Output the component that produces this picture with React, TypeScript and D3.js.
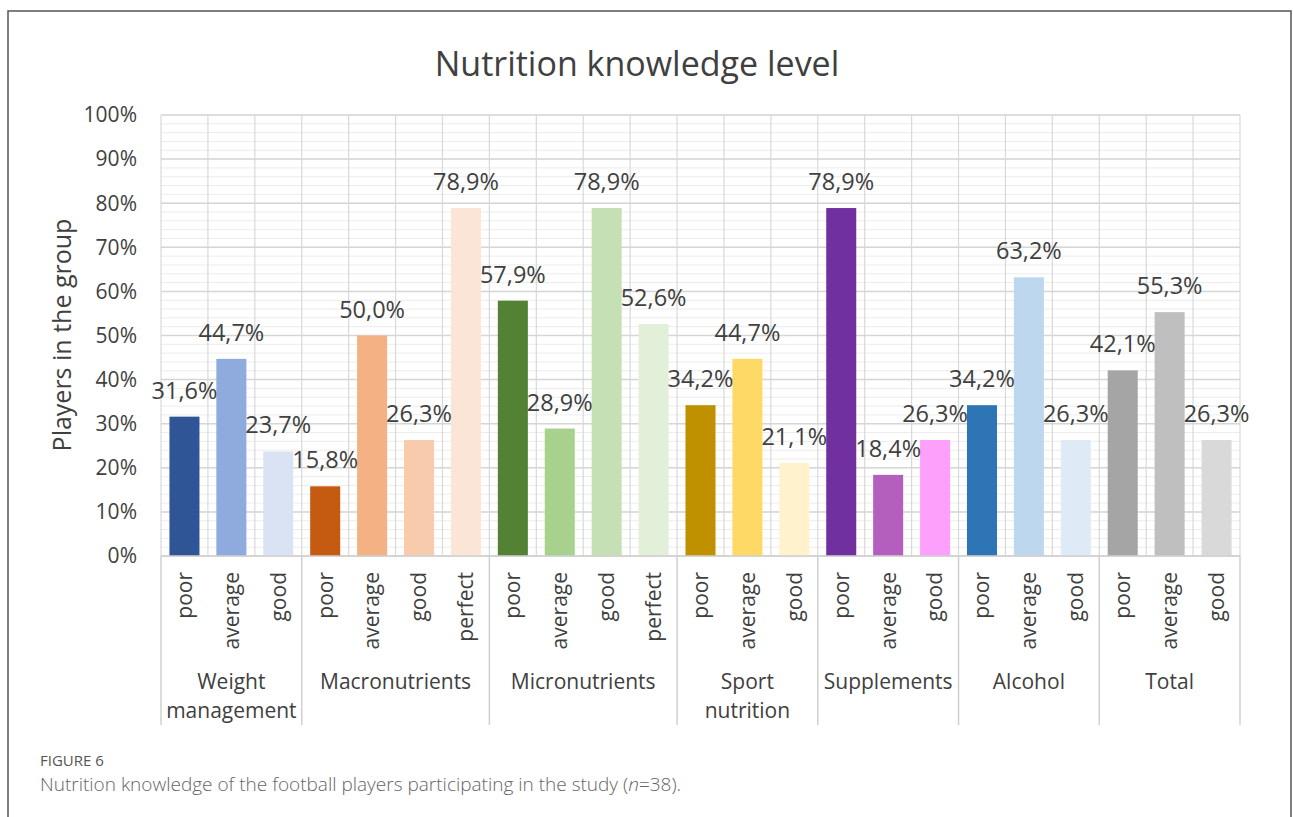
import React from "react";
import * as d3 from "d3";

const groups = ["Weight management", "Macronutrients", "Micronutrients", "Sport nutrition", "Supplements", "Alcohol", "Total"];
const groupLines = [["Weight", "management"], ["Macronutrients"], ["Micronutrients"], ["Sport", "nutrition"], ["Supplements"], ["Alcohol"], ["Total"]];
const levels = [
  ["poor", "average", "good"],
  ["poor", "average", "good", "perfect"],
  ["poor", "average", "good", "perfect"],
  ["poor", "average", "good"],
  ["poor", "average", "good"],
  ["poor", "average", "good"],
  ["poor", "average", "good"],
];
const values = [
  [31.6, 44.7, 23.7],
  [15.8, 50.0, 26.3, 78.9],
  [57.9, 28.9, 78.9, 52.6],
  [34.2, 44.7, 21.1],
  [78.9, 18.4, 26.3],
  [34.2, 63.2, 26.3],
  [42.1, 55.3, 26.3],
];
const colors = [
  ["#2F5597", "#8FAADC", "#DAE3F3"],
  ["#C55A11", "#F4B183", "#F8CBAD", "#FBE5D6"],
  ["#548235", "#A9D18E", "#C5E0B4", "#E2F0D9"],
  ["#BF9000", "#FFD966", "#FFF2CC"],
  ["#7030A0", "#B45FBE", "#FDA0FB"],
  ["#2E75B6", "#BDD7EE", "#DEEBF7"],
  ["#A5A5A5", "#BFBFBF", "#D9D9D9"],
];
const yTicks = [0, 10, 20, 30, 40, 50, 60, 70, 80, 90, 100];

const FONT = "'Open Sans', 'Noto Sans', sans-serif";
const TXT = "#404040";

export default function App() {
  const W = 1293, H = 817;
  const left = 161, right = 1240, top = 115, bottom = 556;

  const bars: { key: string; g: number; level: string; v: number; c: string }[] = [];
  groups.forEach((g, gi) => {
    levels[gi].forEach((l, li) => {
      bars.push({ key: `${gi}-${li}`, g: gi, level: l, v: values[gi][li], c: colors[gi][li] });
    });
  });

  const x = d3.scaleBand<string>().domain(bars.map((b) => b.key)).range([left, right]).paddingInner(0.36).paddingOuter(0.18);
  const step = x.step();
  const y = d3.scaleLinear().domain([0, 100]).range([bottom, top]);
  const minor = d3.range(0, 101, 2);

  const bounds: number[] = [];
  let idx = 0;
  const groupSpans: [number, number][] = [];
  groups.forEach((g, gi) => {
    const s = left + idx * step;
    idx += levels[gi].length;
    const e = left + idx * step;
    groupSpans.push([s, e]);
    bounds.push(s);
  });
  bounds.push(right);

  const fmt = (v: number) => v.toFixed(1).replace(".", ",") + "%";

  return (
    <svg width={W} height={H} style={{ position: "absolute", left: 0, top: 0, background: "#fff" }} fontFamily={FONT}>
      <rect x={8} y={11} width={1283} height={830} fill="#fff" stroke="#555" strokeWidth={1.5} />
      <text x={637} y={76} textAnchor="middle" fontSize={34} fill={TXT}>Nutrition knowledge level</text>

      {minor.map((m) => (
        <line key={"m" + m} x1={left} x2={right} y1={y(m)} y2={y(m)} stroke="#ececec" strokeWidth={1} />
      ))}
      {d3.range(bars.length + 1).map((i) => (
        <line key={"v" + i} x1={left + i * step} x2={left + i * step} y1={top} y2={bottom} stroke="#d9d9d9" strokeWidth={1.2} />
      ))}
      {yTicks.map((t) => (
        <line key={"t" + t} x1={left} x2={right} y1={y(t)} y2={y(t)} stroke="#d6d6d6" strokeWidth={1.5} />
      ))}
      {yTicks.map((t) => (
        <text key={"yl" + t} x={137} y={y(t)} dy="0.35em" textAnchor="end" fontSize={21} fill={TXT}>{t}%</text>
      ))}
      <text transform={`translate(62,335) rotate(-90)`} textAnchor="middle" dy="0.35em" fontSize={25} fill={TXT}>Players in the group</text>

      {bars.map((b) => (
        <rect key={b.key} x={x(b.key)} y={y(b.v)} width={x.bandwidth()} height={bottom - y(b.v)} fill={b.c} />
      ))}
      {bars.map((b) => (
        <text key={"l" + b.key} x={(x(b.key) as number) + x.bandwidth() / 2} y={y(b.v) - 18} textAnchor="middle" fontSize={23.5} fill={TXT}>{fmt(b.v)}</text>
      ))}

      <line x1={left} x2={right} y1={bottom} y2={bottom} stroke="#d0d0d0" strokeWidth={1.5} />
      {bounds.map((bx, i) => (
        <line key={"b" + i} x1={bx} x2={bx} y1={bottom} y2={725} stroke="#d0d0d0" strokeWidth={1.5} />
      ))}
      {bars.map((b) => (
        <text key={"lv" + b.key} transform={`translate(${(x(b.key) as number) + x.bandwidth() / 2},572) rotate(-90)`} textAnchor="end" dy="0.35em" fontSize={21} fill={TXT}>{b.level}</text>
      ))}
      {groupLines.map((lines, gi) => (
        <text key={"g" + gi} x={(groupSpans[gi][0] + groupSpans[gi][1]) / 2} y={689} textAnchor="middle" fontSize={21} fill={TXT}>
          {lines.map((ln, li) => (
            <tspan key={li} x={(groupSpans[gi][0] + groupSpans[gi][1]) / 2} dy={li === 0 ? 0 : 29}>{ln}</tspan>
          ))}
        </text>
      ))}

      <text x={40} y={766} fontSize={15} fill="#555" fontFamily="'Open Sans', sans-serif">FIGURE 6</text>
      <text x={40} y={791} fontSize={19} fill="#666" fontFamily="'Open Sans', sans-serif" fontWeight={300}>
        Nutrition knowledge of the football players participating in the study (<tspan fontStyle="italic">n</tspan>=38).
      </text>
    </svg>
  );
}
